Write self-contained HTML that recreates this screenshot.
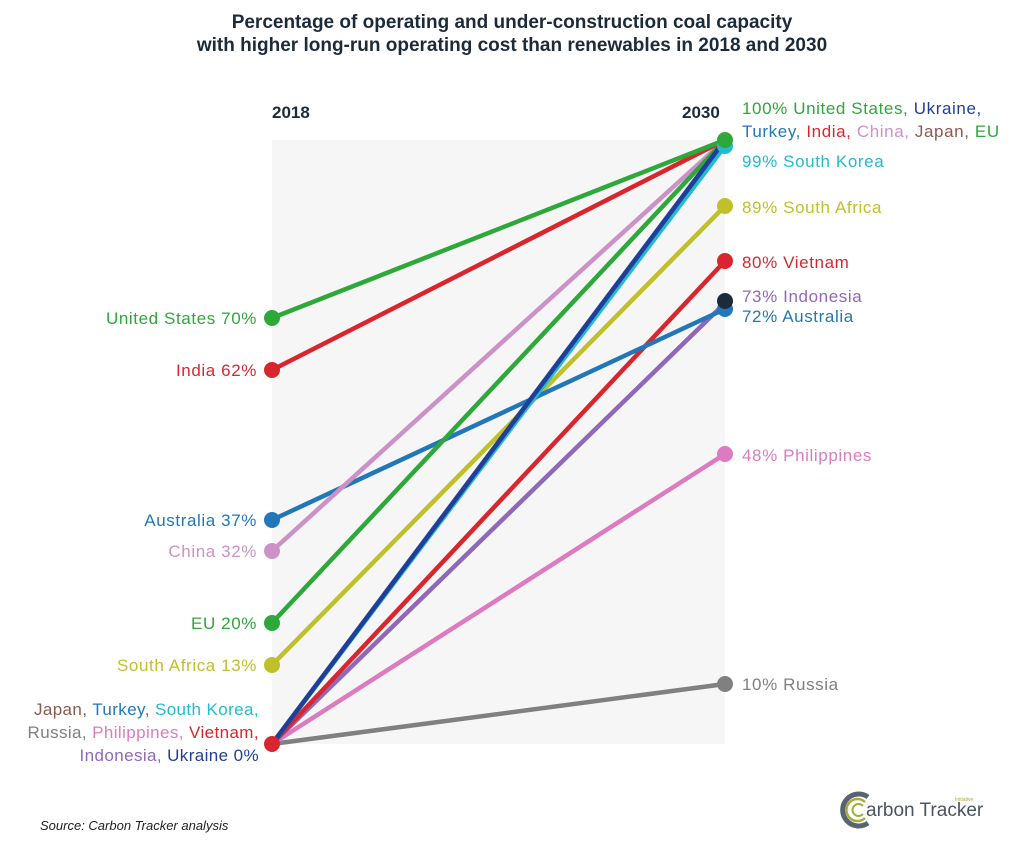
<!DOCTYPE html>
<html><head><meta charset="utf-8"><style>
body{margin:0;background:#fff;width:1024px;height:854px;overflow:hidden;font-family:"Liberation Sans",sans-serif}
</style></head><body>
<svg width="1024" height="854" xmlns="http://www.w3.org/2000/svg" font-family="Liberation Sans, sans-serif">
<text x="512" y="28" text-anchor="middle" font-size="19" font-weight="bold" fill="#1c2b3a">Percentage of operating and under-construction coal capacity</text>
<text x="512" y="51" text-anchor="middle" font-size="19" font-weight="bold" fill="#1c2b3a">with higher long-run operating cost than renewables in 2018 and 2030</text>
<rect x="272" y="140" width="453" height="604" fill="#f6f6f6"/>
<text x="272" y="118" font-size="17" font-weight="bold" fill="#1c2b3a">2018</text>
<text x="682" y="118" font-size="17" font-weight="bold" fill="#1c2b3a">2030</text>
<g stroke-width="4.5" fill="none" stroke-linecap="round">
<line x1="272" y1="744" x2="725" y2="684" stroke="#808080"/>
<line x1="272" y1="744" x2="725" y2="454" stroke="#dc7bbf"/>
<line x1="272" y1="744" x2="725" y2="303" stroke="#9068b8"/>
<line x1="272" y1="744" x2="725" y2="261" stroke="#d9262e"/>
<line x1="272" y1="665" x2="725" y2="206" stroke="#c0c02a"/>
<line x1="272" y1="520" x2="725" y2="309" stroke="#2277b8"/>
<line x1="272" y1="551" x2="725" y2="140" stroke="#cc92c8"/>
<line x1="272" y1="623" x2="725" y2="140" stroke="#2ea83a"/>
<line x1="272" y1="744" x2="725" y2="146" stroke="#20bcd0"/>
<line x1="272" y1="744" x2="725" y2="140" stroke="#2277b8"/>
<line x1="272" y1="744" x2="725" y2="140" stroke="#213f98"/>
<line x1="272" y1="370" x2="725" y2="140" stroke="#d9262e"/>
<line x1="272" y1="318" x2="725" y2="140" stroke="#2ea83a"/>
</g>
<g>
<circle cx="272" cy="318" r="8" fill="#2ea83a"/>
<circle cx="272" cy="370" r="8" fill="#d9262e"/>
<circle cx="272" cy="520" r="8" fill="#2277b8"/>
<circle cx="272" cy="551" r="8" fill="#cc92c8"/>
<circle cx="272" cy="623" r="8" fill="#2ea83a"/>
<circle cx="272" cy="665" r="8" fill="#c0c02a"/>
<circle cx="272" cy="744" r="8" fill="#d9262e"/>
<circle cx="725" cy="146" r="8" fill="#20bcd0"/>
<circle cx="725" cy="140" r="8" fill="#2ea83a"/>
<circle cx="725" cy="206" r="8" fill="#c0c02a"/>
<circle cx="725" cy="261" r="8" fill="#d9262e"/>
<circle cx="725" cy="309" r="8" fill="#2277b8"/>
<circle cx="725" cy="301" r="8" fill="#1c2b3a"/>
<circle cx="725" cy="454" r="8" fill="#dc7bbf"/>
<circle cx="725" cy="684" r="8" fill="#808080"/>
</g>
<g font-size="17" text-anchor="end" letter-spacing="0.6">
<text x="257" y="324" fill="#2ea83a">United States 70%</text>
<text x="257" y="376" fill="#d9262e">India 62%</text>
<text x="257" y="526" fill="#2277b8">Australia 37%</text>
<text x="257" y="557" fill="#cc92c8">China 32%</text>
<text x="257" y="629" fill="#2ea83a">EU 20%</text>
<text x="257" y="671" fill="#c0c02a">South Africa 13%</text>
</g>
<g font-size="17" text-anchor="end" letter-spacing="0.4">
<text x="259" y="715"><tspan fill="#8b5a4e">Japan</tspan><tspan fill="#666">, </tspan><tspan fill="#2277b8">Turkey</tspan><tspan fill="#666">, </tspan><tspan fill="#20bcd0">South Korea,</tspan></text>
<text x="259" y="738"><tspan fill="#808080">Russia, </tspan><tspan fill="#dc7bbf">Philippines, </tspan><tspan fill="#d9262e">Vietnam,</tspan></text>
<text x="259" y="761"><tspan fill="#9068b8">Indonesia, </tspan><tspan fill="#213f98">Ukraine 0%</tspan></text>
</g>
<g font-size="17" letter-spacing="0.6">
<text x="742" y="114"><tspan fill="#2ea83a">100% United States, </tspan><tspan fill="#213f98">Ukraine,</tspan></text>
<text x="742" y="137"><tspan fill="#2277b8">Turkey, </tspan><tspan fill="#d9262e">India, </tspan><tspan fill="#cc92c8">China, </tspan><tspan fill="#8b5a4e">Japan, </tspan><tspan fill="#2ea83a">EU</tspan></text>
<text x="742" y="167" fill="#20bcd0">99% South Korea</text>
<text x="742" y="213" fill="#c0c02a">89% South Africa</text>
<text x="742" y="268" fill="#d9262e">80% Vietnam</text>
<text x="742" y="302" fill="#9068b8">73% Indonesia</text>
<text x="742" y="322" fill="#2277b8">72% Australia</text>
<text x="742" y="461" fill="#dc7bbf">48% Philippines</text>
<text x="742" y="690" fill="#808080">10% Russia</text>
</g>
<text x="40" y="830" font-size="13" font-style="italic" fill="#222">Source: Carbon Tracker analysis</text>
<g>
<path d="M868 797 A16 16 0 1 0 868 823" stroke="#5a6470" stroke-width="5" fill="none"/>
<path d="M865 802 A11 11 0 1 0 865 818" stroke="#a6ad3a" stroke-width="2.5" fill="none"/>
<path d="M863 806 A6 6 0 1 0 863 814" stroke="#a6ad3a" stroke-width="2" fill="none"/>
<text x="866" y="816" font-size="19" fill="#4a5561">arbon Tracker</text>
<text x="955" y="801" font-size="5" fill="#a6ad3a">Initiative</text>
</g>
</svg>
</body></html>
